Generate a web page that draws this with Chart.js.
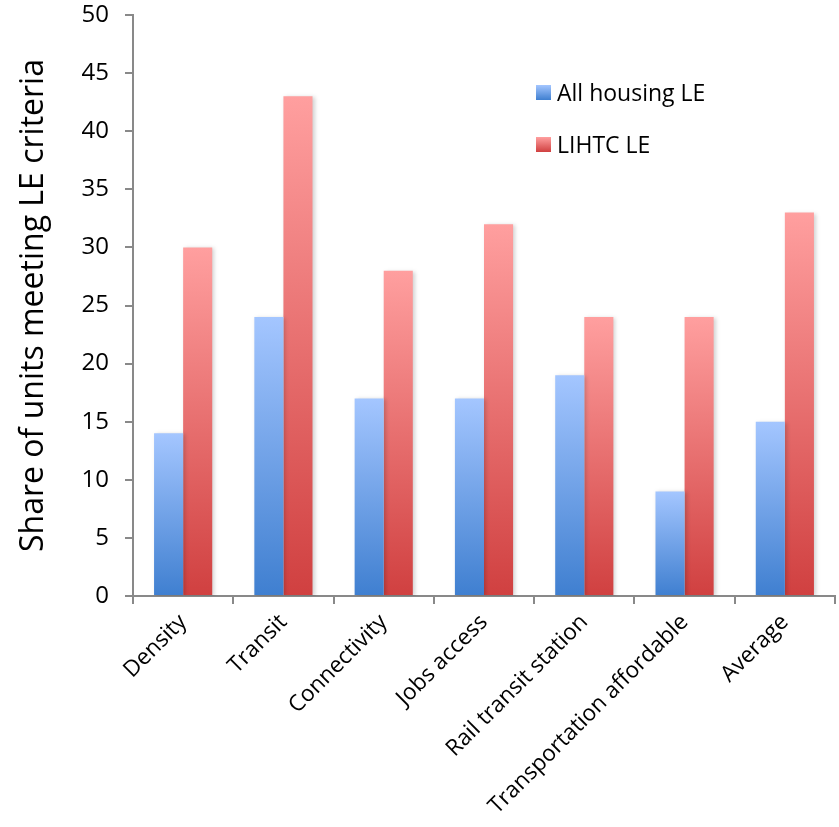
<!DOCTYPE html>
<html>
<head>
<meta charset="utf-8">
<script src="https://cdn.jsdelivr.net/npm/chart.js@4"></script>
<style>
  html, body { margin: 0; padding: 0; background: #fff; }
  #wrap { position: relative; width: 839px; height: 827px; }
  .legend { position: absolute; left: 536px; font-family: 'Open Sans', sans-serif; font-size: 23px; color: #000; display: flex; align-items: center; line-height: 1; }
  .legend i { display: inline-block; width: 15px; height: 15px; margin-right: 6px; }
</style>
</head>
<body>
<div id="wrap">
  <canvas id="chart"></canvas>
  <div class="legend" style="top:81px;"><i style="background:linear-gradient(#a4c6ff,#3f7fd0);"></i>All housing LE</div>
  <div class="legend" style="top:133px;"><i style="background:linear-gradient(#ff9f9f,#d04040);"></i>LIHTC LE</div>
</div>
<script>
const categories = ['Density', 'Transit', 'Connectivity', 'Jobs access', 'Rail transit station', 'Transportation affordable', 'Average'];
const allHousing = [14, 24, 17, 17, 19, 9, 15];
const lihtc = [30, 43, 28, 32, 24, 24, 33];
const yTicks = [0, 5, 10, 15, 20, 25, 30, 35, 40, 45, 50];

const FONT = "'Open Sans', sans-serif";
const AXIS = '#898989';

function barGradient(top, bottom) {
  return (c) => {
    const chart = c.chart;
    if (!chart.chartArea || c.raw == null) return top;
    const y = chart.scales.y;
    const g = chart.ctx.createLinearGradient(0, y.getPixelForValue(c.raw), 0, y.getPixelForValue(0));
    g.addColorStop(0, top);
    g.addColorStop(1, bottom);
    return g;
  };
}

const shadow = {
  id: 'shadow',
  beforeDatasetsDraw(chart) {
    const ctx = chart.ctx;
    ctx.save();
    ctx.shadowColor = 'rgba(0,0,0,0.18)';
    ctx.shadowBlur = 4;
    ctx.shadowOffsetX = 2;
    ctx.shadowOffsetY = 1;
  },
  afterDatasetsDraw(chart) { chart.ctx.restore(); }
};

new Chart(document.getElementById('chart'), {
  type: 'bar',
  data: {
    labels: categories,
    datasets: [
      { label: 'All housing LE', data: allHousing, backgroundColor: barGradient('#a4c6ff', '#3f7fd0'), borderWidth: 0 },
      { label: 'LIHTC LE', data: lihtc, backgroundColor: barGradient('#ff9f9f', '#d04040'), borderWidth: 0 }
    ]
  },
  plugins: [shadow],
  options: {
    responsive: true, maintainAspectRatio: false, animation: false,
    layout: { padding: { top: 15, right: 4, left: 0, bottom: 0 } },
    categoryPercentage: 0.58, barPercentage: 1.0,
    plugins: { legend: { display: false }, tooltip: { enabled: false } },
    scales: {
      x: {
        grid: { display: true, drawOnChartArea: false, drawTicks: true, tickLength: 8, color: AXIS, lineWidth: 2, offset: true },
        border: { display: true, color: AXIS, width: 2 },
        ticks: { color: '#000', font: { family: FONT, size: 22.5 }, minRotation: 45, maxRotation: 45, padding: 5 },
        afterFit: (s) => { s.height = 827 - 596; }
      },
      y: {
        min: 0, max: 50,
        afterBuildTicks: (s) => { s.ticks = yTicks.map(v => ({ value: v })); },
        grid: { display: true, drawOnChartArea: false, drawTicks: true, tickLength: 8, color: AXIS, lineWidth: 2 },
        border: { display: true, color: AXIS, width: 2 },
        ticks: { color: '#000', font: { family: FONT, size: 24 }, padding: 16 },
        title: { display: true, text: 'Share of units meeting LE criteria', color: '#000', font: { family: FONT, size: 32 }, padding: { top: 15, bottom: 0 } },
        afterFit: (s) => { s.width = 133; s.paddingTop = 0; s.paddingBottom = 0; }
      }
    }
  }
});
</script>
</body>
</html>
